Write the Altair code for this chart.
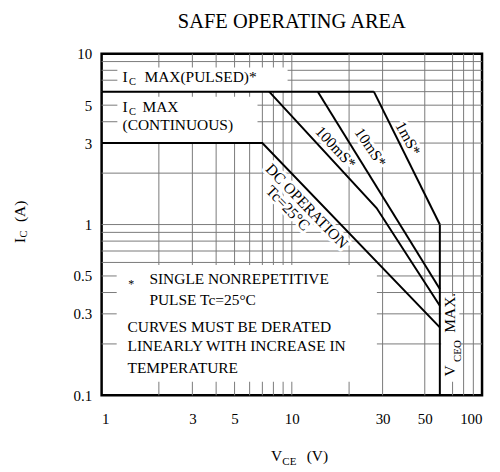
import altair as alt
import pandas as pd

# ---------------- data ----------------
title_text = "SAFE OPERATING AREA"

x_tick_values = [1, 3, 5, 10, 30, 50, 100]
y_tick_values = [0.1, 0.3, 0.5, 1, 3, 5, 10]

grid_x = [2, 3, 4, 5, 6, 7, 8, 9, 10, 20, 30, 50, 70, 80, 90]
grid_y = [0.2, 0.3, 0.4, 0.5, 0.6, 0.7, 0.8, 0.9, 1, 2, 3, 4, 5, 6, 7, 8, 9]

# SOA boundary curves (V_CE in volts, I_C in amperes)
vce_pulsed = [1, 27]
ic_pulsed = [6, 6]
vce_dc = [1, 7, 60]
ic_dc = [3, 3, 0.25]
vce_100ms = [7.6, 27.9, 60]
ic_100ms = [6, 1.25, 0.335]
vce_10ms = [13.7, 60]
ic_10ms = [6, 0.42]
vce_1ms = [27, 60]
ic_1ms = [6, 1.0]
vce_vceo = [60, 60]
ic_vceo = [1.0, 0.1]

# white label panels (x from, x to, y from, y to) in data units
panel_x1 = [1.21, 1.21, 1.2, 61]
panel_x2 = [9.5, 6.6, 28, 76]
panel_y1 = [6, 3, 0.12, 0.12]
panel_y2 = [8.3, 5.6, 0.58, 0.38]

# ---------------- build tables ----------------
rows = []
for name, xs_, ys_ in [("pulsed", vce_pulsed, ic_pulsed), ("dc", vce_dc, ic_dc),
                       ("100ms", vce_100ms, ic_100ms), ("10ms", vce_10ms, ic_10ms),
                       ("1ms", vce_1ms, ic_1ms), ("vceo", vce_vceo, ic_vceo)]:
    for i, (a, b) in enumerate(zip(xs_, ys_)):
        rows.append({"series": name, "vce": a, "ic": b, "order": i})
lines_df = pd.DataFrame(rows)

panels_df = pd.DataFrame({"x1": panel_x1, "x2": panel_x2, "y1": panel_y1, "y2": panel_y2})

FONT = "Liberation Serif"
W, H = 382, 343

xscale = alt.Scale(type="log", domain=[1, 100])
yscale = alt.Scale(type="log", domain=[0.1, 10])

xaxis = alt.Axis(values=x_tick_values, format="~g", labelFont=FONT, labelFontSize=15,
                 labelColor="black", labelFlush=True, labelPadding=16, ticks=False,
                 tickSize=0, domain=False, grid=False, labelOverlap=False)
yaxis = alt.Axis(values=y_tick_values, format="~g", labelFont=FONT, labelFontSize=15,
                 labelColor="black", labelPadding=10, ticks=False, tickSize=0,
                 domain=False, grid=False, labelOverlap=False)


def X(field):
    return alt.X(field, type="quantitative", scale=xscale, axis=xaxis, title=None)


def Y(field):
    return alt.Y(field, type="quantitative", scale=yscale, axis=yaxis, title=None)


gx = alt.Chart(pd.DataFrame({"g": grid_x})).mark_rule(color="#7a7a7a", strokeWidth=1).encode(
    x=X("g"))
gy = alt.Chart(pd.DataFrame({"g": grid_y})).mark_rule(color="#7a7a7a", strokeWidth=1).encode(
    y=Y("g"))

panels = alt.Chart(panels_df).mark_rect(fill="white", stroke=None).encode(
    x=X("x1"), x2="x2", y=Y("y1"), y2="y2")

curves = alt.Chart(lines_df).mark_line(color="black", strokeWidth=2).encode(
    x=X("vce"), y=Y("ic"), detail="series:N", order="order:Q")


def label(text, x, y, size=15.5, dx=0, dy=0, angle=0, align="left",
          baseline="alphabetic", halo=False, xpix=None, ypix=None):
    df = pd.DataFrame({"x": [x if x is not None else 1], "y": [y if y is not None else 1]})
    kw = dict(text=text, font=FONT, fontSize=size, dx=dx, dy=dy, angle=angle,
              align=align, baseline=baseline)
    if halo:
        mk = alt.Chart(df).mark_text(fill="white", stroke="white", strokeWidth=6,
                                     strokeJoin="round", **kw)
    else:
        mk = alt.Chart(df).mark_text(color="black", **kw)
    enc = {}
    enc["x"] = alt.value(xpix) if xpix is not None else X("x")
    enc["y"] = alt.value(ypix) if ypix is not None else Y("y")
    return mk.encode(**enc)


texts = []
halos = []
# chart title, centred over the plot (x = 10 is the middle of the log axis)
texts.append(label(title_text, 10, None, size=20.5, align="center", ypix=-26))
# I_C MAX (PULSED)
texts += [label("I", 1.288, 6.80),
          label("C", 1.288, 6.80, size=10.5, dx=6.5, dy=2.5),
          label("MAX(PULSED)*", 1.288, 6.80, dx=22)]
# I_C MAX (CONTINUOUS)
texts += [label("I", 1.288, 4.55),
          label("C", 1.288, 4.55, size=10.5, dx=6.5, dy=3),
          label("MAX", 1.288, 4.55, dx=20),
          label("(CONTINUOUS)", 1.288, 4.55, dy=18.3)]
# notes
NX, NY = 1.368, 0.2351
texts += [label("*", NX, NY, size=12, dx=3.7, dy=-44, align="center"),
          label("SINGLE NONREPETITIVE", NX, NY, dx=22, dy=-48),
          label("PULSE Tc=25°C", NX, NY, dx=22, dy=-27),
          label("CURVES MUST BE DERATED", NX, NY),
          label("LINEARLY WITH INCREASE IN", NX, NY, dy=19),
          label("TEMPERATURE", NX, NY, dy=41)]
# rotated curve labels
rot = [("100mS*", 17.0, 2.83, 47), ("10mS*", 25.9, 2.83, 56), ("1mS*", 40.8, 3.19, 61),
       ("DC OPERATION", 11.98, 1.28, 46), ("Tc=25°C", 9.53, 1.248, 46)]
for t, x, y, a in rot:
    halos.append(label(t, x, y, angle=a, align="center", baseline="middle", halo=True))
    texts.append(label(t, x, y, angle=a, align="center", baseline="middle"))
# V_CEO MAX.
texts += [label("V", 72.2, 0.129, angle=270),
          label("CEO", 72.2, 0.129, size=11, angle=270, dx=14.5, dy=5.5),
          label("MAX.", 72.2, 0.129, angle=270, dx=44)]
# axis titles
texts += [label("I", None, 0.78, angle=270, xpix=-77),
          label("C", None, 0.78, size=10.5, angle=270, dx=5.5, dy=2.5, xpix=-77),
          label("(A)", None, 0.78, angle=270, dx=21, xpix=-77),
          label("V", 7.76, None, ypix=409),
          label("CE", 7.76, None, size=11, dx=11.5, dy=4, ypix=409),
          label("(V)", 7.76, None, dx=36, ypix=409)]

chart = alt.layer(gx, gy, panels, *halos, curves, *texts).properties(
    width=W, height=H,
    autosize=alt.AutoSizeParams(type="none"),
    padding={"left": 94, "top": 45, "right": 10, "bottom": 71},
).configure_view(stroke="black", strokeWidth=2.5)

chart.save("out.html", embed_options={"renderer": "svg", "actions": False})
